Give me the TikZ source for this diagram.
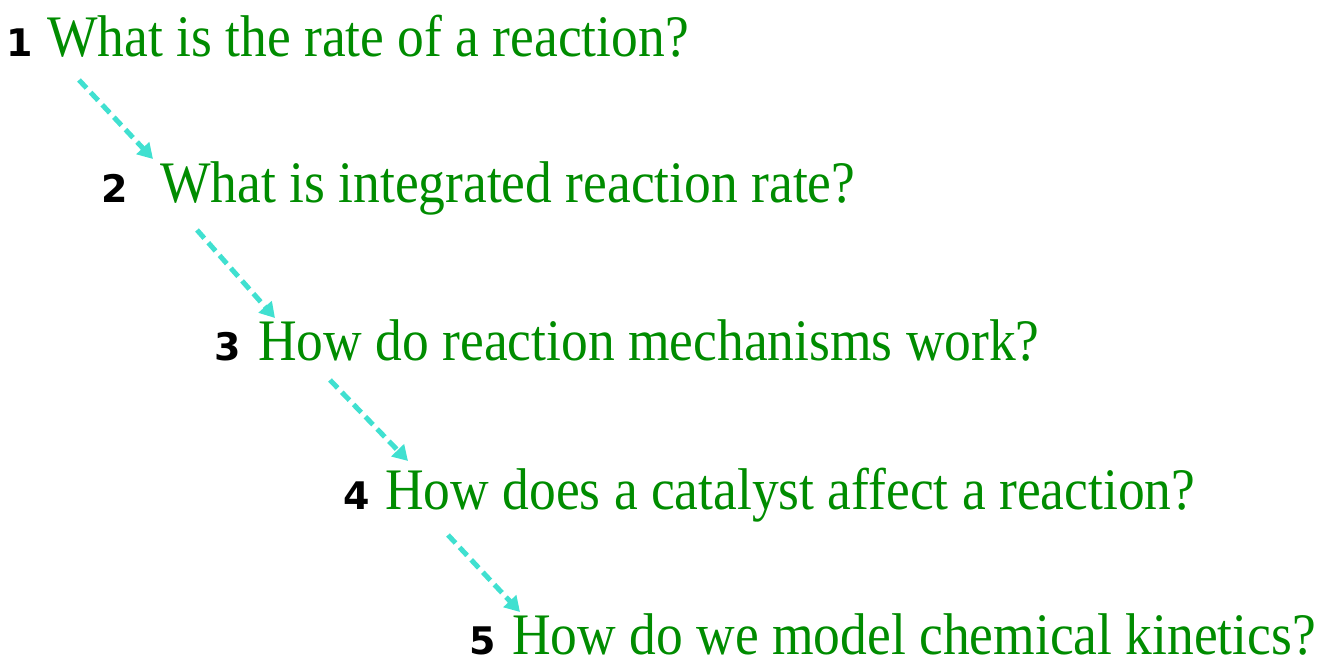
\documentclass[tikz,border=0pt]{standalone}
\usepackage{fontspec}
\setmainfont{Liberation Serif}
\newfontfamily\numfont{DejaVu Sans}
\usetikzlibrary{arrows.meta}
\definecolor{qgreen}{RGB}{0,140,0}
\definecolor{qcyan}{RGB}{64,224,208}
\newcommand{\qtall}[1]{\scalebox{1}[1.1]{#1}}
\tikzset{
  qtext/.style={anchor=base west, inner sep=0pt, text=qgreen, font=\fontsize{53.5}{60}\selectfont},
  qnum/.style={anchor=base east, inner sep=0pt, font=\numfont\bfseries\fontsize{38}{40}\selectfont},
  qarrow/.style={draw=qcyan, line width=5pt, dash pattern=on 11pt off 6pt, -{Triangle[length=15pt,width=17pt]}}
}
\begin{document}
\begin{tikzpicture}[x=1pt,y=-1pt]
\useasboundingbox (0,0) rectangle (1322,661);
\node[qnum] (n1) at (33,57) {1};
\node[qtext] (t1) at (47,57) {\qtall{What is the rate of a reaction?}};
\node[qnum] (n2) at (128,202) {2};
\node[qtext] (t2) at (160,202) {\qtall{What is integrated reaction rate?}};
\node[qnum] (n3) at (241,360) {3};
\node[qtext] (t3) at (258,360) {\qtall{How do reaction mechanisms work?}};
\node[qnum] (n4) at (370,509) {4};
\node[qtext] (t4) at (385,509) {\qtall{How does a catalyst affect a reaction?}};
\node[qnum] (n5) at (496,654) {5};
\node[qtext] (t5) at (512,654) {\qtall{How do we model chemical kinetics?}};
\coordinate (s1) at (79,80);  \coordinate (e1) at (153,159);
\coordinate (s2) at (197,230); \coordinate (e2) at (275,318);
\coordinate (s3) at (330,380); \coordinate (e3) at (408,461);
\coordinate (s4) at (448,535); \coordinate (e4) at (520,612);
\draw[qarrow] (s1) -- (e1);
\draw[qarrow] (s2) -- (e2);
\draw[qarrow] (s3) -- (e3);
\draw[qarrow] (s4) -- (e4);
\end{tikzpicture}
\end{document}
